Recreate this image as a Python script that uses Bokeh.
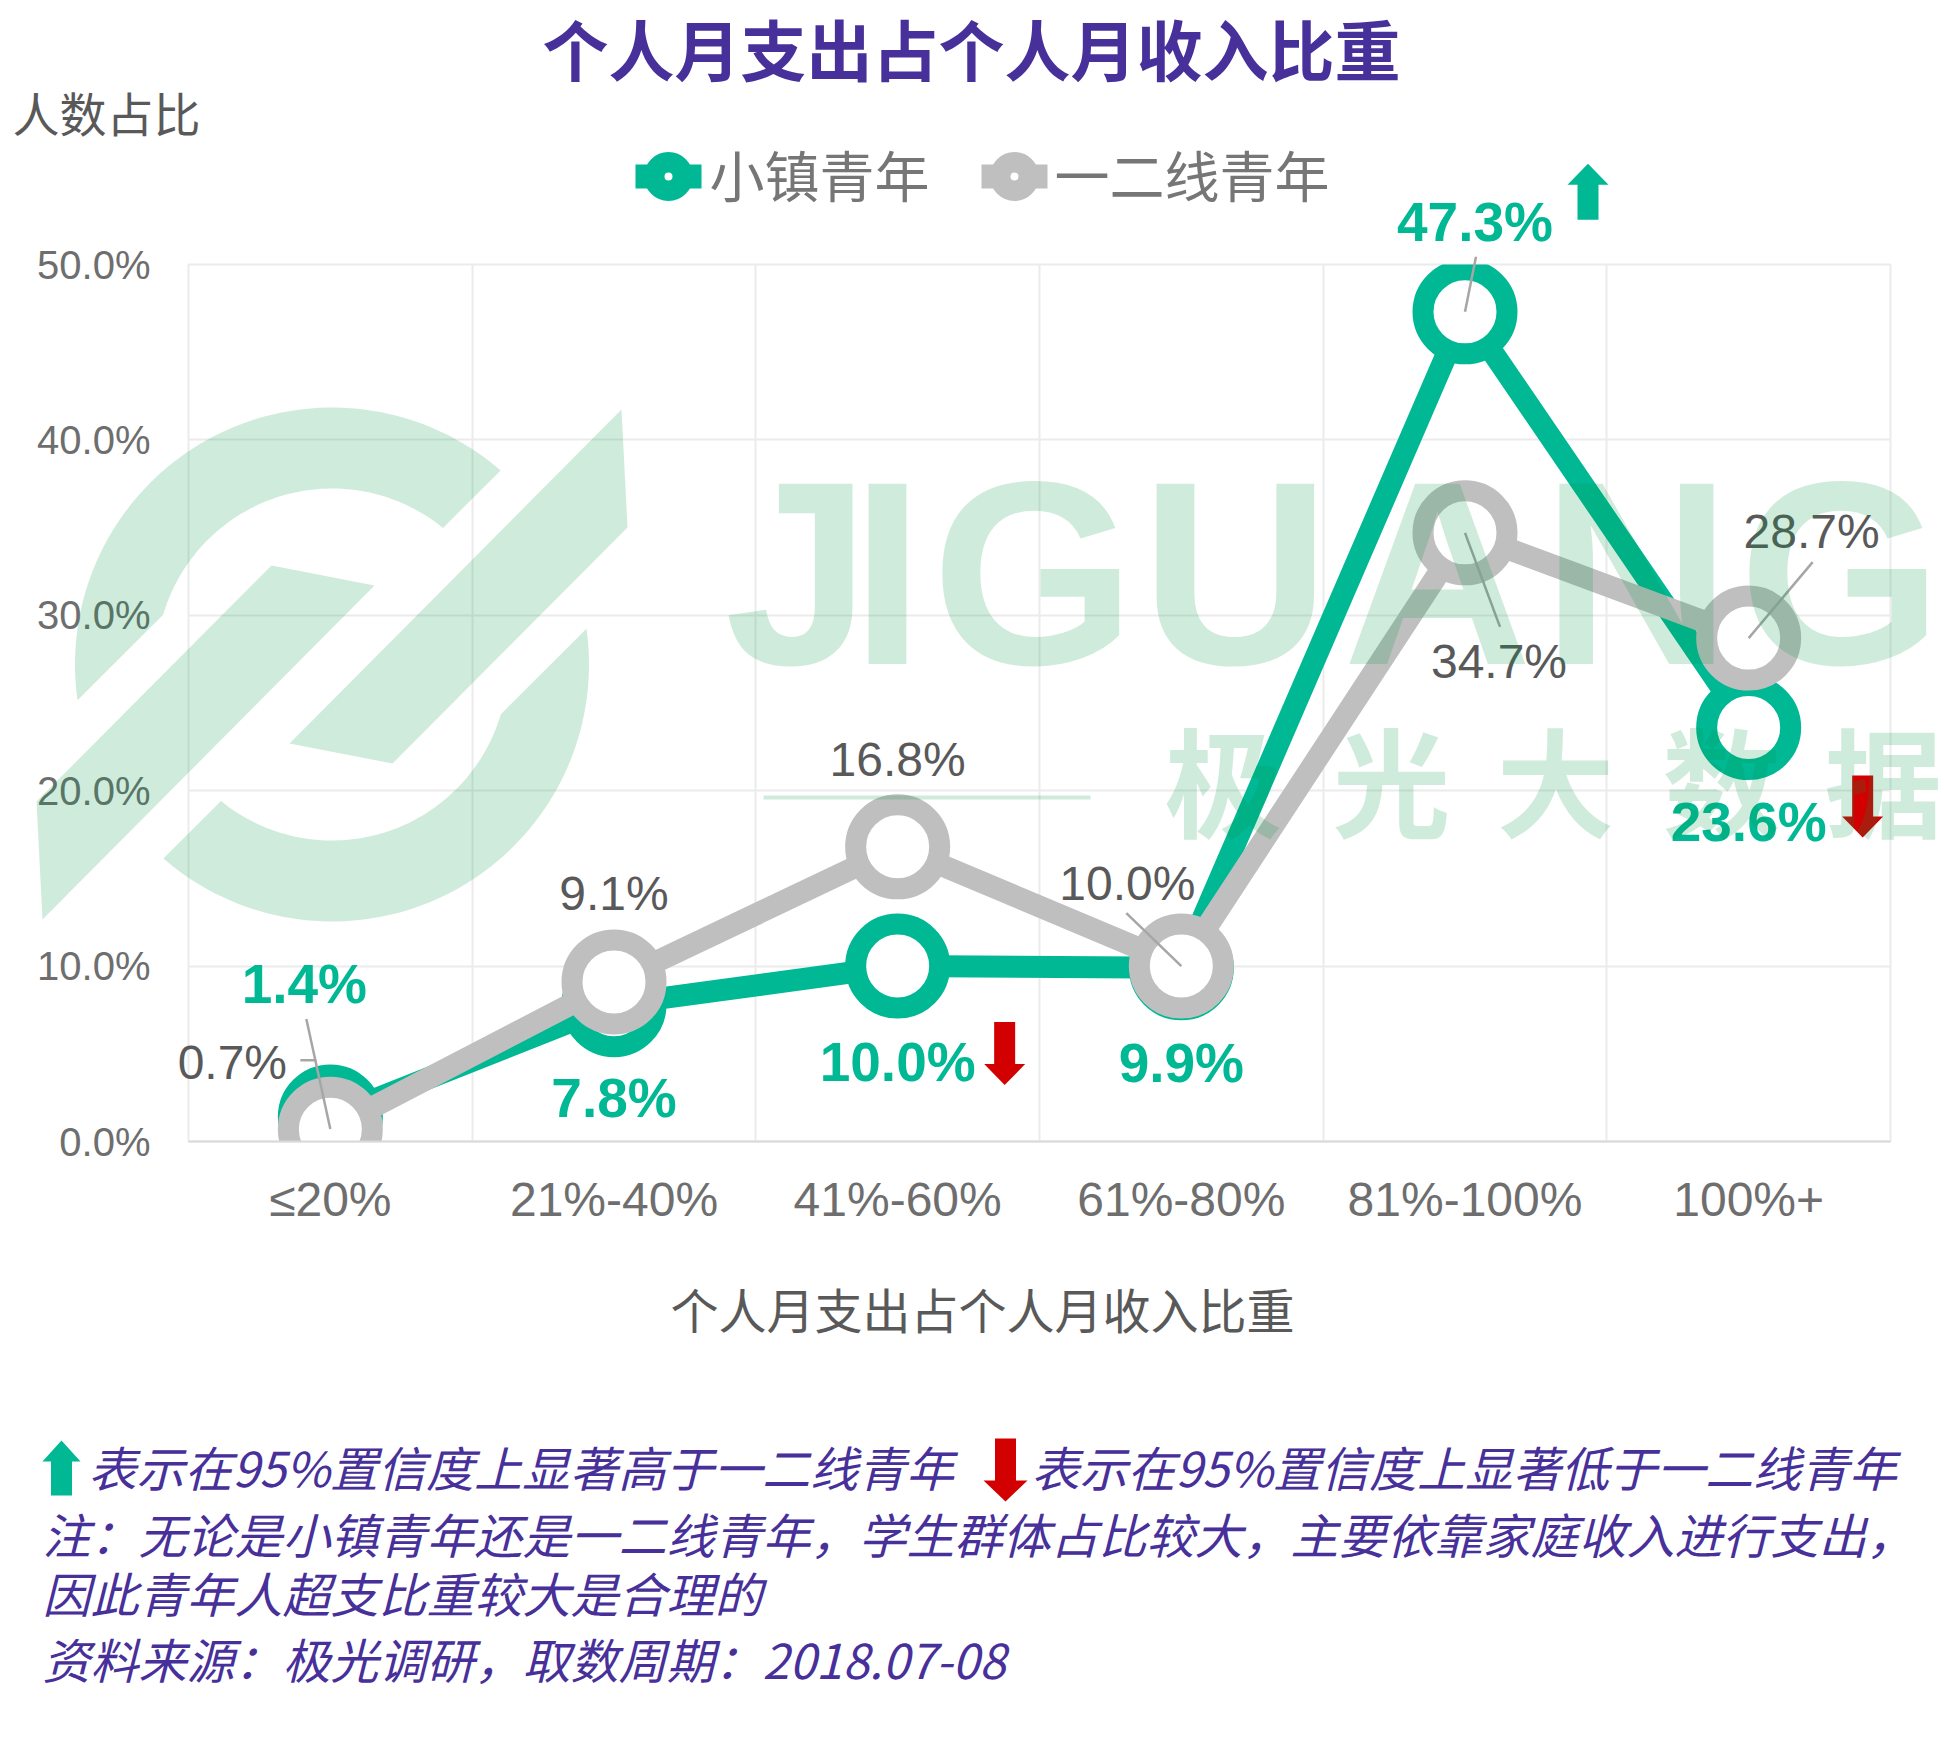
import numpy as np
from bokeh.plotting import figure
from bokeh.models import (FixedTicker, PrintfTickFormatter, Label, PolyAnnotation, Arrow,
                          Range1d, GridBox, Column)
from bokeh.embed import file_html
from bokeh.resources import INLINE

# ---------------- data ----------------
categories = ["≤20%", "21%-40%", "41%-60%", "61%-80%", "81%-100%", "100%+"]
town_youth = [1.4, 7.8, 10.0, 9.9, 47.3, 23.6]      # 小镇青年
city_youth = [0.7, 9.1, 16.8, 10.0, 34.7, 28.7]     # 一二线青年
town_signif = [0, 0, -1, 0, 1, -1]                  # +1 higher / -1 lower than 一二线青年
y_ticks = [0, 10, 20, 30, 40, 50]
series_names = ["小镇青年", "一二线青年"]
title_text = "个人月支出占个人月收入比重"
x_title = "个人月支出占个人月收入比重"
y_title = "人数占比"
foot_up = "表示在95%置信度上显著高于一二线青年"
foot_down = "表示在95%置信度上显著低于一二线青年"
foot_note1 = "注：无论是小镇青年还是一二线青年，学生群体占比较大，主要依靠家庭收入进行支出，"
foot_note2 = "因此青年人超支比重较大是合理的"
foot_source = "资料来源：极光调研，取数周期：2018.07-08"

# ---------------- layout / style ----------------
W, H = 1944, 1742
FL, FR, FT, FB = 188, 1890, 264, 1141
YMAX = 50
NC = len(categories)
PXU = (FR - FL) / NC
PYU = (FB - FT) / YMAX

GREEN = "#00B894"
GREY = "#BFBFBF"
RED = "#D20000"
PURPLE = "#48309A"
WM = "#009545"
WMA = 0.19
CJK = "Noto Sans CJK SC"
LAT = "Liberation Sans"


def px2x(px):
    return (px - FL) / PXU


def px2y(py):
    return (FB - py) / PYU


# ================= main chart (axes, grid, series) =================
p = figure(width=W, height=H, x_range=categories, y_range=Range1d(0, YMAX),
           output_backend="svg", toolbar_location=None,
           min_border_left=FL, min_border_right=W - FR,
           min_border_top=FT, min_border_bottom=H - FB)
p.outline_line_color = "#EBEBEB"
p.outline_line_width = 2
p.background_fill_color = "white"
p.border_fill_color = "white"

p.xgrid.ticker = FixedTicker(ticks=list(range(NC + 1)))
p.ygrid.ticker = FixedTicker(ticks=y_ticks)
for g in (p.xgrid, p.ygrid):
    g.grid_line_color = "#EBEBEB"
    g.grid_line_width = 2

p.yaxis.ticker = FixedTicker(ticks=y_ticks)
p.yaxis.formatter = PrintfTickFormatter(format="%.1f%%")
p.yaxis.axis_line_color = None
p.yaxis.major_tick_line_color = None
p.yaxis.minor_tick_line_color = None
p.yaxis.major_label_standoff = 32
p.yaxis.major_label_text_font = LAT
p.yaxis.major_label_text_font_size = "40px"
p.yaxis.major_label_text_color = "#6E6E6E"

p.xaxis.axis_line_color = "#D9D9D9"
p.xaxis.axis_line_width = 2
p.xaxis.major_tick_line_color = None
p.xaxis.minor_tick_line_color = None
p.xaxis.major_label_standoff = 25
p.xaxis.major_label_text_font = LAT
p.xaxis.major_label_text_font_size = "48px"
p.xaxis.major_label_text_color = "#6E6E6E"

g_line = p.line(categories, town_youth, line_color=GREEN, line_width=22, line_join="round")
g_pts = p.scatter(categories, town_youth, marker="circle", size=84, fill_color="white",
                  line_color=GREEN, line_width=21)
c_line = p.line(categories, city_youth, line_color=GREY, line_width=22, line_join="round")
c_pts = p.scatter(categories, city_youth, marker="circle", size=84, fill_color="white",
                  line_color=GREY, line_width=21)

# ================= overlay (same data coordinates, frame = whole page) =================
q = figure(width=W, height=H, x_range=Range1d(-FL / PXU, (W - FL) / PXU),
           y_range=Range1d(-(H - FB) / PYU, FB / PYU),
           output_backend="svg", toolbar_location=None, x_axis_type=None, y_axis_type=None,
           min_border=0, min_border_left=0, min_border_right=0,
           min_border_top=0, min_border_bottom=0)
q.outline_line_color = None
q.background_fill_color = None
q.border_fill_color = None
q.grid.visible = False

# ---- legend (drawn by hand in the overlay) ----
leg_colors = [GREEN, GREY]
leg_icon_x = [668, 1014]
leg_text_x = [709, 1054]
for name, col, ix, tx in zip(series_names, leg_colors, leg_icon_x, leg_text_x):
    q.segment(x0=[px2x(ix - 33)], y0=[px2y(176)], x1=[px2x(ix + 33)], y1=[px2y(176)],
              line_color=col, line_width=24)
    q.scatter(x=[px2x(ix)], y=[px2y(176)], marker="circle", size=28.5, line_width=20.5,
              line_color=col, fill_color="white")
    q.add_layout(Label(x=px2x(tx), y=px2y(172), text=name, text_font=CJK,
                       text_font_size="55px", text_color="#767676",
                       text_align="left", text_baseline="middle"))

# ---- data labels ----
town_lbl_off = [(-26, -133), (0, 93), (0, 96), (0, 95), (10, -90), (0, 94)]
city_lbl_off = [(-98, -67), (0, -88), (0, -87), (-54, -83), (34, 129), (63, -107)]

for i, v in enumerate(town_youth):
    dx, dy = town_lbl_off[i]
    q.add_layout(Label(x=i + 0.5, y=v, x_offset=dx, y_offset=-dy, text=f"{v:.1f}%",
                       text_font=LAT, text_font_style="bold", text_font_size="55px",
                       text_color=GREEN, text_align="center", text_baseline="middle"))
for i, v in enumerate(city_youth):
    dx, dy = city_lbl_off[i]
    q.add_layout(Label(x=i + 0.5, y=v, x_offset=dx, y_offset=-dy, text=f"{v:.1f}%",
                       text_font=LAT, text_font_size="48px",
                       text_color="#595959", text_align="center", text_baseline="middle"))

leaders = [(town_youth, 4, (0, 0), (11, -55)),
           (city_youth, 4, (0, 0), (35, 94)),
           (city_youth, 5, (0, 0), (64, -76)),
           (city_youth, 3, (0, 0), (-55, -53)),
           (town_youth, 0, (0, 12), (-24, -98)),
           (city_youth, 0, (-30, -69), (-14, -69))]
for ser, i, (sx, sy), (ex, ey) in leaders:
    q.add_layout(Arrow(end=None, x_start=i + 0.5 + sx / PXU, y_start=ser[i] - sy / PYU,
                       x_end=i + 0.5 + ex / PXU, y_end=ser[i] - ey / PYU,
                       line_color="#A6A6A6", line_width=2.5))


def arrow_poly(cx, y_base, y_tip, shaft=21, head=41, head_len=21):
    d = 1 if y_tip > y_base else -1
    yh = y_tip - d * head_len
    pts = [(cx - shaft / 2, y_base), (cx + shaft / 2, y_base), (cx + shaft / 2, yh),
           (cx + head / 2, yh), (cx, y_tip), (cx - head / 2, yh), (cx - shaft / 2, yh)]
    return [px2x(a) for a, b in pts], [px2y(b) for a, b in pts]


sig_pos = {2: (107, 56, 119), 4: (123, -92, -148), 5: (114, 48, 110)}
for i, s in enumerate(town_signif):
    if s == 0:
        continue
    dx, b, t = sig_pos[i]
    cx = FL + (i + 0.5) * PXU + dx
    cy = FB - town_youth[i] * PYU
    xs, ys = arrow_poly(cx, cy + b, cy + t)
    q.add_layout(PolyAnnotation(xs=xs, ys=ys, fill_color=GREEN if s > 0 else RED,
                                fill_alpha=1, line_color=None))

# ---- titles ----
q.add_layout(Label(x=px2x(W / 2 - 1), y=px2y(46), text=title_text, text_font=CJK,
                   text_font_style="bold", text_font_size="66px", text_color=PURPLE,
                   text_align="center", text_baseline="middle"))
q.add_layout(Label(x=px2x(12), y=px2y(111), text=y_title, text_font=CJK,
                   text_font_size="47px", text_color="#595959",
                   text_align="left", text_baseline="middle"))
q.add_layout(Label(x=px2x(982), y=px2y(1307), text=x_title, text_font=CJK,
                   text_font_size="48px", text_color="#595959",
                   text_align="center", text_baseline="middle"))

# ---- footer ----
xs, ys = arrow_poly(61, 1495, 1440, head=38)
q.add_layout(PolyAnnotation(xs=xs, ys=ys, fill_color=GREEN, fill_alpha=1, line_color=None))
xs, ys = arrow_poly(1005, 1438, 1501, head=44)
q.add_layout(PolyAnnotation(xs=xs, ys=ys, fill_color=RED, fill_alpha=1, line_color=None))
for txt, x0, yc in [(foot_up, 88, 1465), (foot_down, 1031, 1465), (foot_note1, 42, 1532),
                    (foot_note2, 42, 1591), (foot_source, 42, 1657)]:
    q.add_layout(Label(x=px2x(x0), y=px2y(yc), text=txt, text_font=CJK,
                       text_font_style="italic", text_font_size="48px", text_color=PURPLE,
                       text_align="left", text_baseline="middle"))

# ---- watermark ----
LC = (331.5, 664)


def ring_arc(o0, o1, i0, i1, ro=257, ri=176, n=80):
    ao = np.radians(np.linspace(o0, o1, n))
    ai = np.radians(np.linspace(i0, i1, n))
    px = list(LC[0] + ro * np.cos(ao)) + list(LC[0] + ri * np.cos(ai))
    py = list(LC[1] - ro * np.sin(ao)) + list(LC[1] - ri * np.sin(ai))
    return [px2x(a) for a in px], [px2y(b) for b in py]


shapes = [ring_arc(49, 188, 163.6, 50.9), ring_arc(229, 368, 343.6, 230.9)]
for pts in ([(36, 801), (271, 565), (374, 585), (42, 919)],
            [(627, 527), (392, 763), (289, 743), (621, 409)]):
    shapes.append(([px2x(a) for a, b in pts], [px2y(b) for a, b in pts]))
shapes.append(([px2x(a) for a in (763, 1090, 1090, 763)],
               [px2y(b) for b in (795, 795, 799, 799)]))
for xs, ys in shapes:
    q.add_layout(PolyAnnotation(xs=xs, ys=ys, fill_color=WM, fill_alpha=WMA,
                                line_color=None, level="overlay"))

for ch, cx in zip("JIGUANG", [797, 887, 1033, 1235, 1437, 1636, 1840]):
    q.add_layout(Label(x=px2x(cx), y=px2y(573), text=ch, text_font=LAT,
                       text_font_style="bold", text_font_size="262px", text_color=WM,
                       text_alpha=WMA, text_align="center", text_baseline="middle",
                       level="overlay"))
for ch, cx in zip("极光大数据", [1223, 1391, 1555, 1721, 1883]):
    q.add_layout(Label(x=px2x(cx), y=px2y(777), text=ch, text_font=CJK,
                       text_font_style="bold", text_font_size="118px", text_color=WM,
                       text_alpha=WMA, text_align="center", text_baseline="middle",
                       level="overlay"))

layout = GridBox(children=[(Column(children=[p]), 0, 0), (Column(children=[q]), 0, 0)])
open("out.html", "w").write(file_html(layout, INLINE))
